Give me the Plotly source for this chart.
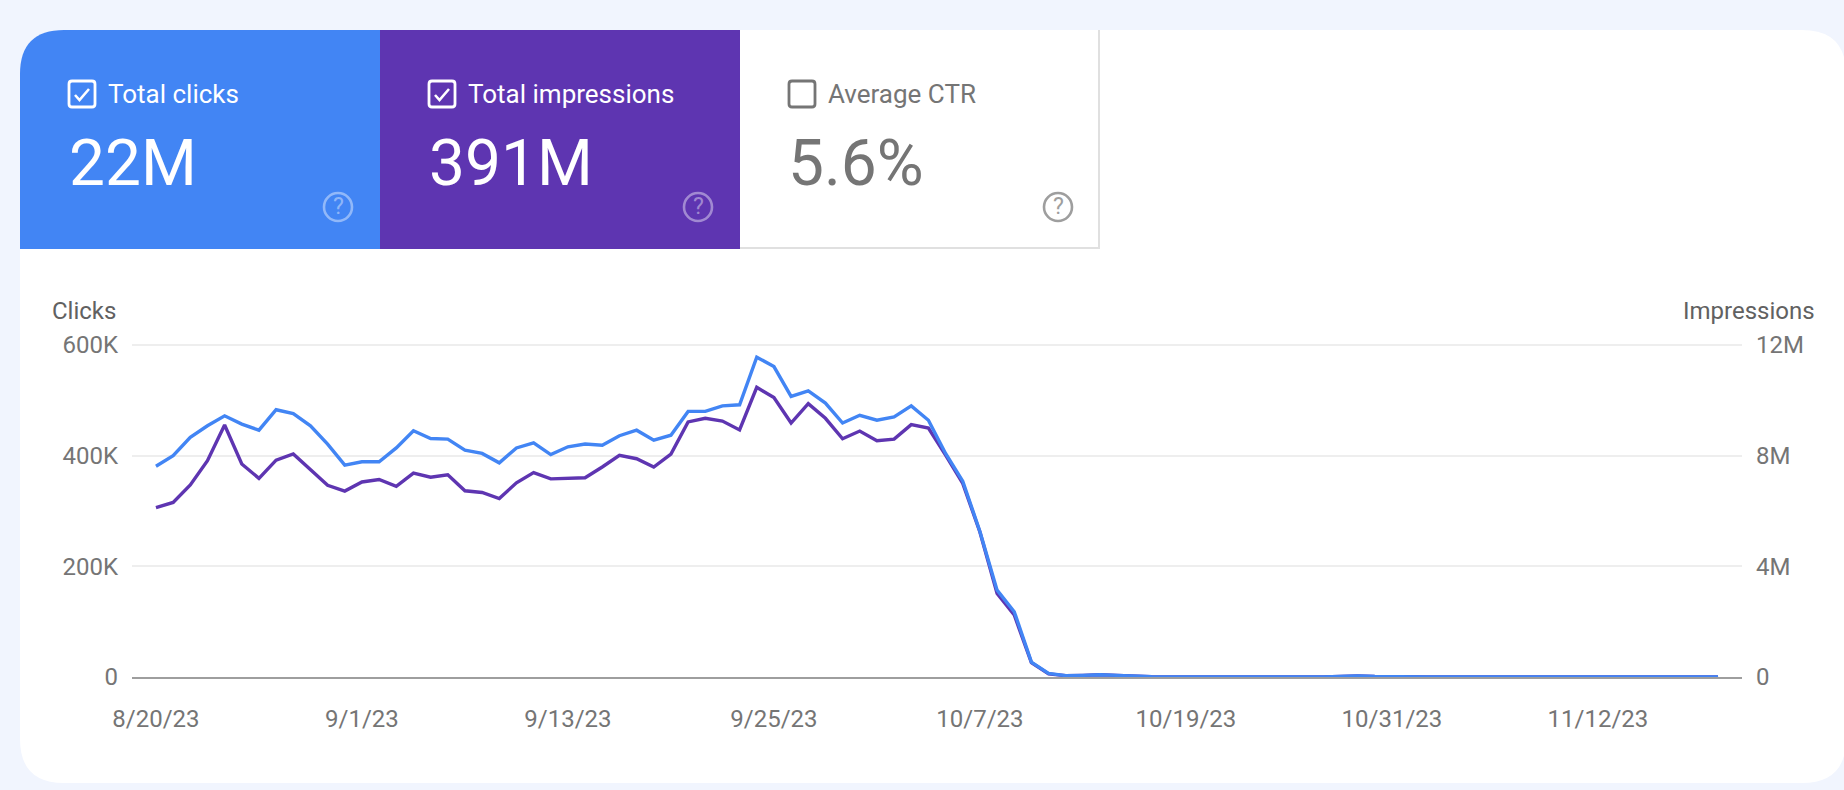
import pandas as pd
import plotly.graph_objects as go

start_date = "2023-08-20"
clicks_k = [381, 400, 433, 454, 472, 457, 446, 483, 476, 454, 421, 383, 389, 389, 414, 445, 431, 430, 410, 404,
            387, 414, 423, 402, 416, 421, 419, 436, 446, 428, 437, 480, 480, 490, 492, 578, 561, 507, 517, 495,
            459, 473, 464, 470, 490, 464, 404, 354, 263, 157, 118, 27, 6.6, 2.5, 3, 4, 3, 1.2, 0.5, 0.3,
            0.1, 0.1, 0.1, 0.1, 0.1, 0.1, 0.1, 0.1, 0.3, 1.0, 2.0, 1.0, 0.3, 0.1, 0.1, 0.1, 0.1, 0.1, 0.1, 0.1,
            0.1, 0.1, 0.1, 0.1, 0.1, 0.1, 0.1, 0.1, 0.1, 0.1, 0.1, 0.1]
impressions_m = [6.12, 6.31, 6.94, 7.82, 9.11, 7.70, 7.18, 7.84, 8.06, 7.48, 6.93, 6.72, 7.05, 7.14, 6.89, 7.37,
                 7.22, 7.31, 6.73, 6.67, 6.45, 7.02, 7.39, 7.16, 7.19, 7.20, 7.59, 8.01, 7.89, 7.59, 8.06, 9.22,
                 9.35, 9.25, 8.93, 10.47, 10.10, 9.18, 9.88, 9.35, 8.61, 8.89, 8.54, 8.60, 9.12, 9.00, 8.02, 7.00,
                 5.24, 3.02, 2.24, 0.52, 0.11, 0.05, 0.06, 0.08, 0.06, 0.03, 0.01, 0.005,
                 0.002, 0.002, 0.002, 0.002, 0.002, 0.002, 0.002, 0.002, 0.005, 0.02, 0.04, 0.02, 0.005, 0.002, 0.002, 0.002,
                 0.002, 0.002, 0.002, 0.002, 0.002, 0.002, 0.002, 0.002, 0.002, 0.002, 0.002, 0.002, 0.002, 0.002, 0.002, 0.002]
date_ticks = ["2023-08-20", "2023-09-01", "2023-09-13", "2023-09-25", "2023-10-07", "2023-10-19", "2023-10-31", "2023-11-12"]
date_tick_labels = ["8/20/23", "9/1/23", "9/13/23", "9/25/23", "10/7/23", "10/19/23", "10/31/23", "11/12/23"]
clicks_ticks = [0, 200000, 400000, 600000]
clicks_tick_labels = ["0", "200K", "400K", "600K"]
impr_ticks = [0, 4000000, 8000000, 12000000]
impr_tick_labels = ["0", "4M", "8M", "12M"]
card_labels = ["Total clicks", "Total impressions", "Average CTR"]
card_values = ["22M", "391M", "5.6%"]

dates = pd.date_range(start_date, periods=len(clicks_k), freq="D")

BLUE = "#4285F4"
PURPLE = "#5E35B1"
GREY = "#757575"
FONT = "Roboto"
# plot box: 2 px of headroom above the 600K line keeps that gridline from being clipped
L, R, T, B = 132, 1742, 343, 677
HEADROOM = (B - T) / (B - 345)


def X(px):
    return (px - L) / (R - L)


def Y(py):
    return (B - py) / (B - T)


def P(x, y):
    return f"{X(x):.6f},{Y(y):.6f}"


shapes = []
# white rounded card
r = 44
cl, ct, cr, cb = 20, 30, 1846, 783
shapes.append(dict(type="path", xref="paper", yref="paper", layer="below", fillcolor="white", line_width=0,
                   path=f"M{P(cl + r, ct)} L{P(cr - r, ct)} Q{P(cr, ct)} {P(cr, ct + r)} L{P(cr, cb - r)} "
                        f"Q{P(cr, cb)} {P(cr - r, cb)} L{P(cl + r, cb)} Q{P(cl, cb)} {P(cl, cb - r)} "
                        f"L{P(cl, ct + r)} Q{P(cl, ct)} {P(cl + r, ct)} Z"))
# blue tile
shapes.append(dict(type="path", xref="paper", yref="paper", layer="below", fillcolor=BLUE, line_width=0,
                   path=f"M{P(cl + r, ct)} L{P(380, ct)} L{P(380, 249)} L{P(cl, 249)} L{P(cl, ct + r)} "
                        f"Q{P(cl, ct)} {P(cl + r, ct)} Z"))
# purple tile
shapes.append(dict(type="rect", xref="paper", yref="paper", layer="below", fillcolor=PURPLE, line_width=0,
                   x0=X(380), x1=X(740), y0=Y(ct), y1=Y(249)))
# white tile borders
shapes.append(dict(type="path", xref="paper", yref="paper", layer="below", line=dict(color="#E0E0E0", width=2),
                   path=f"M{P(1099, ct)} L{P(1099, 248)} L{P(740, 248)}"))

tiles = [(69, 105.5, 66.5, "white", "rgba(255,255,255,0.42)", 338, True),
         (429, 465.5, 426.5, "white", "rgba(255,255,255,0.42)", 698, True),
         (789, 825.5, 785.5, GREY, "#9E9E9E", 1058, False)]
annotations = []
for (bx, lx, vx, col, qcol, qx, checked), lab, val in zip(tiles, card_labels, card_values):
    s, y0 = 26, 81
    rr = 3
    shapes.append(dict(type="path", xref="paper", yref="paper", fillcolor="rgba(0,0,0,0)",
                       line=dict(color=col, width=2.8),
                       path=f"M{P(bx + rr, y0)} L{P(bx + s - rr, y0)} Q{P(bx + s, y0)} {P(bx + s, y0 + rr)} "
                            f"L{P(bx + s, y0 + s - rr)} Q{P(bx + s, y0 + s)} {P(bx + s - rr, y0 + s)} "
                            f"L{P(bx + rr, y0 + s)} Q{P(bx, y0 + s)} {P(bx, y0 + s - rr)} "
                            f"L{P(bx, y0 + rr)} Q{P(bx, y0)} {P(bx + rr, y0)} Z"))
    if checked:
        shapes.append(dict(type="path", xref="paper", yref="paper", line=dict(color=col, width=2.6),
                           path=f"M{P(bx + 6, y0 + 14)} L{P(bx + 10.5, y0 + 19)} L{P(bx + 20, y0 + 8)}"))
    shapes.append(dict(type="circle", xref="paper", yref="paper", fillcolor="rgba(0,0,0,0)",
                       line=dict(color=qcol, width=2.6),
                       x0=X(qx - 14), x1=X(qx + 14), y0=Y(207 + 14), y1=Y(207 - 14)))
    annotations.append(dict(text="?", x=X(qx), y=Y(207), xref="paper", yref="paper", showarrow=False,
                            xanchor="center", yanchor="middle", font=dict(family=FONT, size=23, color=qcol)))
    annotations.append(dict(text=lab, x=X(lx), y=Y(94), xref="paper", yref="paper", showarrow=False,
                            xanchor="left", yanchor="middle", font=dict(family=FONT, size=26, color=col)))
    annotations.append(dict(text=val, x=X(vx), y=Y(163), xref="paper", yref="paper", showarrow=False,
                            xanchor="left", yanchor="middle", font=dict(family=FONT, size=64, color=col, weight=400)))

annotations.append(dict(text="Clicks", x=X(50), y=Y(311), xref="paper", yref="paper", showarrow=False,
                        xanchor="left", yanchor="middle", font=dict(family=FONT, size=24, color="#616161")))
annotations.append(dict(text="Impressions", x=X(1816.5), y=Y(311), xref="paper", yref="paper", showarrow=False,
                        xanchor="right", yanchor="middle", font=dict(family=FONT, size=24, color="#616161")))

fig = go.Figure()
fig.add_trace(go.Scatter(x=dates, y=[v * 1e6 for v in impressions_m], name="Impressions", mode="lines",
                         line=dict(color=PURPLE, width=3.4), yaxis="y", cliponaxis=False))
fig.add_trace(go.Scatter(x=dates, y=[v * 1e3 for v in clicks_k], name="Clicks", mode="lines",
                         line=dict(color=BLUE, width=3.4), yaxis="y2", cliponaxis=False))

tick_font = dict(family=FONT, size=24, color=GREY)
fig.update_layout(
    width=1844, height=790, autosize=False, showlegend=False,
    paper_bgcolor="#F1F5FE", plot_bgcolor="rgba(0,0,0,0)",
    margin=dict(l=L, r=1844 - R, t=T, b=790 - B),
    shapes=shapes, annotations=annotations,
    xaxis=dict(type="date", range=["2023-08-18 14:30", "2023-11-20 09:30"], tickmode="array",
               tickvals=date_ticks, ticktext=date_tick_labels, tickfont=tick_font,
               showgrid=False, zeroline=False, showline=True, linecolor="#9E9E9E", linewidth=2,
               ticks="", ticklabelstandoff=19),
    yaxis=dict(range=[0, max(impr_ticks) * HEADROOM], tickmode="array", tickvals=impr_ticks, ticktext=impr_tick_labels,
               side="right", tickfont=tick_font, showgrid=True, gridcolor="#EEEEEE", gridwidth=1.5,
               zeroline=False, showline=False, ticks="", ticklabelstandoff=13),
    yaxis2=dict(range=[0, max(clicks_ticks) * HEADROOM], tickmode="array", tickvals=clicks_ticks, ticktext=clicks_tick_labels,
                overlaying="y", side="left", tickfont=tick_font, showgrid=False,
                zeroline=False, showline=False, ticks="", ticklabelstandoff=13),
)
fig.write_html("out.html", config=dict(displayModeBar=False),
               post_script="document.body.style.margin='0';document.documentElement.style.overflow='hidden';")
